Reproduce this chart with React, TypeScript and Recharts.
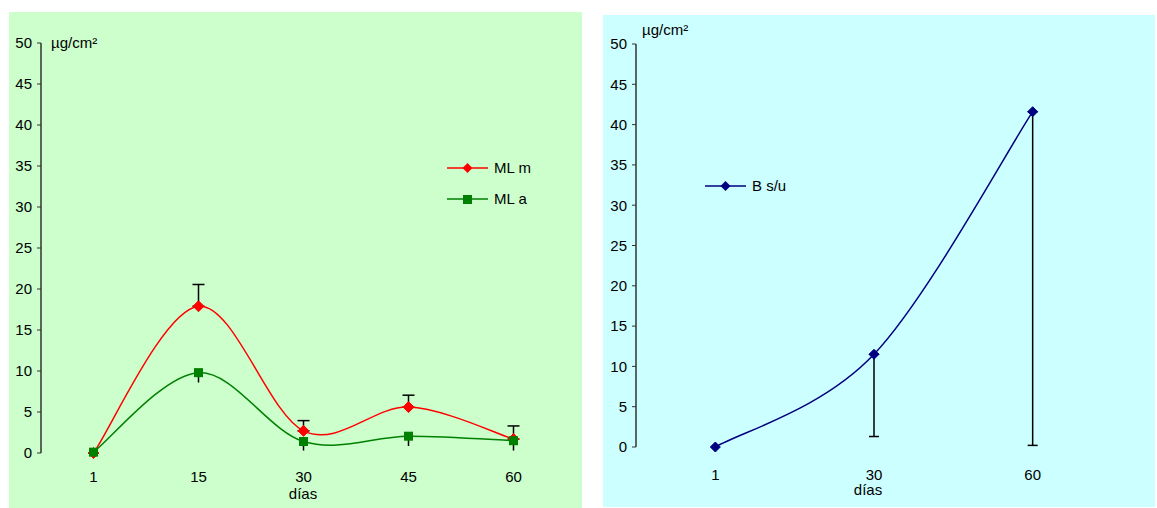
import React from 'react';
import { LineChart, Line, XAxis, YAxis, ErrorBar, Legend } from 'recharts';

// valores (µg/cm²)
const leftDays = ['1', '15', '30', '45', '60'];
const mlM = [0, 17.9, 2.7, 5.6, 1.7];
const mlMErr = [null, 2.65, 1.25, 1.45, 1.6];
const mlA = [0.1, 9.8, 1.4, 2.05, 1.5];
const mlAErr = [null, 1.2, 1.1, 1.2, 1.2];

const rightDays = ['1', '30', '60'];
const bsu = [0, 11.5, 41.6];
const bsuErr = [null, 10.2, 41.4];

const yTicks = [0, 5, 10, 15, 20, 25, 30, 35, 40, 45, 50];
const legendOrder = ['ML m', 'ML a', 'B s/u'];

const leftData = leftDays.map((d, i) => ({
  pos: i + 1,
  day: d,
  m: mlM[i],
  mErr: mlMErr[i] == null ? null : [0, mlMErr[i]],
  a: mlA[i],
  aErr: mlAErr[i] == null ? null : [mlAErr[i], 0],
}));

const rightData = rightDays.map((d, i) => ({
  pos: i + 1,
  day: d,
  b: bsu[i],
  bErr: bsuErr[i] == null ? null : [bsuErr[i], 0],
}));

const FONT = '"Liberation Sans", Arial, sans-serif';
const AXIS = '#333';
const tickStyle = { fill: '#000', fontSize: 15, fontFamily: FONT };

// suavizado tipo Excel (Catmull-Rom)
function smoothCurve(context: any) {
  let pts: number[][] = [];
  return {
    areaStart() {},
    areaEnd() {},
    lineStart() {
      pts = [];
    },
    lineEnd() {
      const n = pts.length;
      if (!n) return;
      context.moveTo(pts[0][0], pts[0][1]);
      for (let i = 0; i < n - 1; i++) {
        const p0 = pts[i - 1] || pts[i];
        const p1 = pts[i];
        const p2 = pts[i + 1];
        const p3 = pts[i + 2] || p2;
        context.bezierCurveTo(
          p1[0] + (p2[0] - p0[0]) / 6,
          p1[1] + (p2[1] - p0[1]) / 6,
          p2[0] - (p3[0] - p1[0]) / 6,
          p2[1] - (p3[1] - p1[1]) / 6,
          p2[0],
          p2[1]
        );
      }
    },
    point(x: number, y: number) {
      pts.push([+x, +y]);
    },
  };
}

const diamond = (color: string, r: number) => (props: any) => {
  const { cx, cy, index } = props;
  if (cx == null || cy == null) return <g key={`n-${index}`} />;
  return (
    <path
      key={`d-${index}`}
      d={`M${cx},${cy - r}L${cx + r},${cy}L${cx},${cy + r}L${cx - r},${cy}Z`}
      fill={color}
      stroke={color}
    />
  );
};

const square = (color: string, r: number) => (props: any) => {
  const { cx, cy, index } = props;
  if (cx == null || cy == null) return <g key={`n-${index}`} />;
  return <rect key={`s-${index}`} x={cx - r} y={cy - r} width={2 * r} height={2 * r} fill={color} />;
};

const markerKind: Record<string, string> = { 'ML m': 'diamond', 'ML a': 'square', 'B s/u': 'diamond' };

const LegendContent = (props: any) => {
  const items = [...(props.payload || [])].sort(
    (p: any, q: any) => legendOrder.indexOf(p.value) - legendOrder.indexOf(q.value)
  );
  return (
    <div>
      {items.map((e: any) => (
        <div key={e.value} style={{ display: 'flex', alignItems: 'center', height: 31 }}>
          <svg width={41} height={12} style={{ display: 'block' }}>
            <line x1={0} y1={6} x2={41} y2={6} stroke={e.color} strokeWidth={1.5} />
            {markerKind[e.value] === 'square' ? (
              <rect x={16} y={2} width={9} height={9} fill={e.color} />
            ) : (
              <path d="M20.5,1L25.5,6L20.5,11L15.5,6Z" fill={e.color} />
            )}
          </svg>
          <span style={{ marginLeft: 6, fontFamily: FONT, fontSize: 15, color: '#000' }}>{e.value}</span>
        </div>
      ))}
    </div>
  );
};

const overlay = (left: number, top: number, width?: number): React.CSSProperties => ({
  position: 'absolute',
  left,
  top,
  width,
  fontFamily: FONT,
  fontSize: 15,
  lineHeight: '15px',
  color: '#000',
  textAlign: width ? 'center' : 'left',
  whiteSpace: 'nowrap',
});

export default function App() {
  return (
    <div style={{ position: 'absolute', left: 0, top: 0, width: 1157, height: 508, background: '#fff' }}>
      {/* panel izquierdo */}
      <div style={{ position: 'absolute', left: 9, top: 12, width: 573, height: 496, background: '#ccffcc' }}>
        <LineChart
          width={573}
          height={496}
          data={leftData}
          margin={{ top: 31, right: 16, left: 0, bottom: 25 }}
          style={{ fontFamily: FONT }}
        >
          <XAxis
            xAxisId="frame"
            dataKey="pos"
            type="number"
            domain={[0.5, 5.5]}
            ticks={[0.5, 1.5, 2.5, 3.5, 4.5, 5.5]}
            tick={false}
            tickSize={4}
            height={0}
            stroke={AXIS}
            axisLine={{ stroke: AXIS, strokeWidth: 1.5 }}
            tickLine={{ stroke: AXIS }}
          />
          <XAxis
            xAxisId="lab"
            dataKey="pos"
            type="number"
            domain={[0.5, 5.5]}
            ticks={[1, 2, 3, 4, 5]}
            tickFormatter={(v: number) => leftDays[v - 1]}
            axisLine={false}
            tickLine={false}
            tickSize={4}
            tickMargin={14}
            height={30}
            tick={tickStyle}
          />
          <YAxis
            type="number"
            domain={[0, 50]}
            ticks={yTicks}
            interval={0}
            width={32}
            tickSize={4}
            tickMargin={5}
            tick={tickStyle}
            axisLine={{ stroke: AXIS, strokeWidth: 1.5 }}
            tickLine={{ stroke: AXIS }}
          />
          <Legend
            layout="vertical"
            align="center"
            verticalAlign="middle"
            wrapperStyle={{ left: 438, top: 140, width: 120 }}
            content={LegendContent}
          />
          <Line
            xAxisId="lab"
            name="ML m"
            dataKey="m"
            type={smoothCurve as any}
            stroke="#ff0000"
            strokeWidth={1.5}
            dot={diamond('#ff0000', 5.5)}
            activeDot={false}
            isAnimationActive={false}
          >
            <ErrorBar dataKey="mErr" direction="y" width={6} stroke="#000" strokeWidth={1.5} />
          </Line>
          <Line
            xAxisId="lab"
            name="ML a"
            dataKey="a"
            type={smoothCurve as any}
            stroke="#008000"
            strokeWidth={1.5}
            dot={square('#008000', 4.5)}
            activeDot={false}
            isAnimationActive={false}
          >
            <ErrorBar dataKey="aErr" direction="y" width={0} stroke="#000" strokeWidth={1.5} />
          </Line>
        </LineChart>
      </div>
      <div style={overlay(51, 35)}>µg/cm²</div>
      <div style={overlay(253, 486, 100)}>días</div>

      {/* panel derecho */}
      <div style={{ position: 'absolute', left: 603, top: 15, width: 552, height: 492, background: '#ccffff' }}>
        <LineChart
          width={552}
          height={492}
          data={rightData}
          margin={{ top: 29, right: 43, left: 0, bottom: 30 }}
          style={{ fontFamily: FONT }}
        >
          <XAxis
            xAxisId="frame"
            dataKey="pos"
            type="number"
            domain={[0.5, 3.5]}
            ticks={[0.5, 1.5, 2.5, 3.5]}
            tick={false}
            tickSize={4}
            height={0}
            stroke={AXIS}
            axisLine={{ stroke: AXIS, strokeWidth: 1.5 }}
            tickLine={{ stroke: AXIS }}
          />
          <XAxis
            xAxisId="lab"
            dataKey="pos"
            type="number"
            domain={[0.5, 3.5]}
            ticks={[1, 2, 3]}
            tickFormatter={(v: number) => rightDays[v - 1]}
            axisLine={false}
            tickLine={false}
            tickSize={4}
            tickMargin={18}
            height={30}
            tick={tickStyle}
          />
          <YAxis
            type="number"
            domain={[0, 50]}
            ticks={yTicks}
            interval={0}
            width={33}
            tickSize={4}
            tickMargin={5}
            tick={tickStyle}
            axisLine={{ stroke: AXIS, strokeWidth: 1.5 }}
            tickLine={{ stroke: AXIS }}
          />
          <Legend
            layout="vertical"
            align="center"
            verticalAlign="middle"
            wrapperStyle={{ left: 102, top: 155, width: 120 }}
            content={LegendContent}
          />
          <Line
            xAxisId="lab"
            name="B s/u"
            dataKey="b"
            type={smoothCurve as any}
            stroke="#000080"
            strokeWidth={1.5}
            dot={diamond('#000080', 5)}
            activeDot={false}
            isAnimationActive={false}
          >
            <ErrorBar dataKey="bErr" direction="y" width={5} stroke="#000" strokeWidth={1.5} />
          </Line>
        </LineChart>
      </div>
      <div style={overlay(642, 22)}>µg/cm²</div>
      <div style={overlay(818, 482, 100)}>días</div>
    </div>
  );
}
